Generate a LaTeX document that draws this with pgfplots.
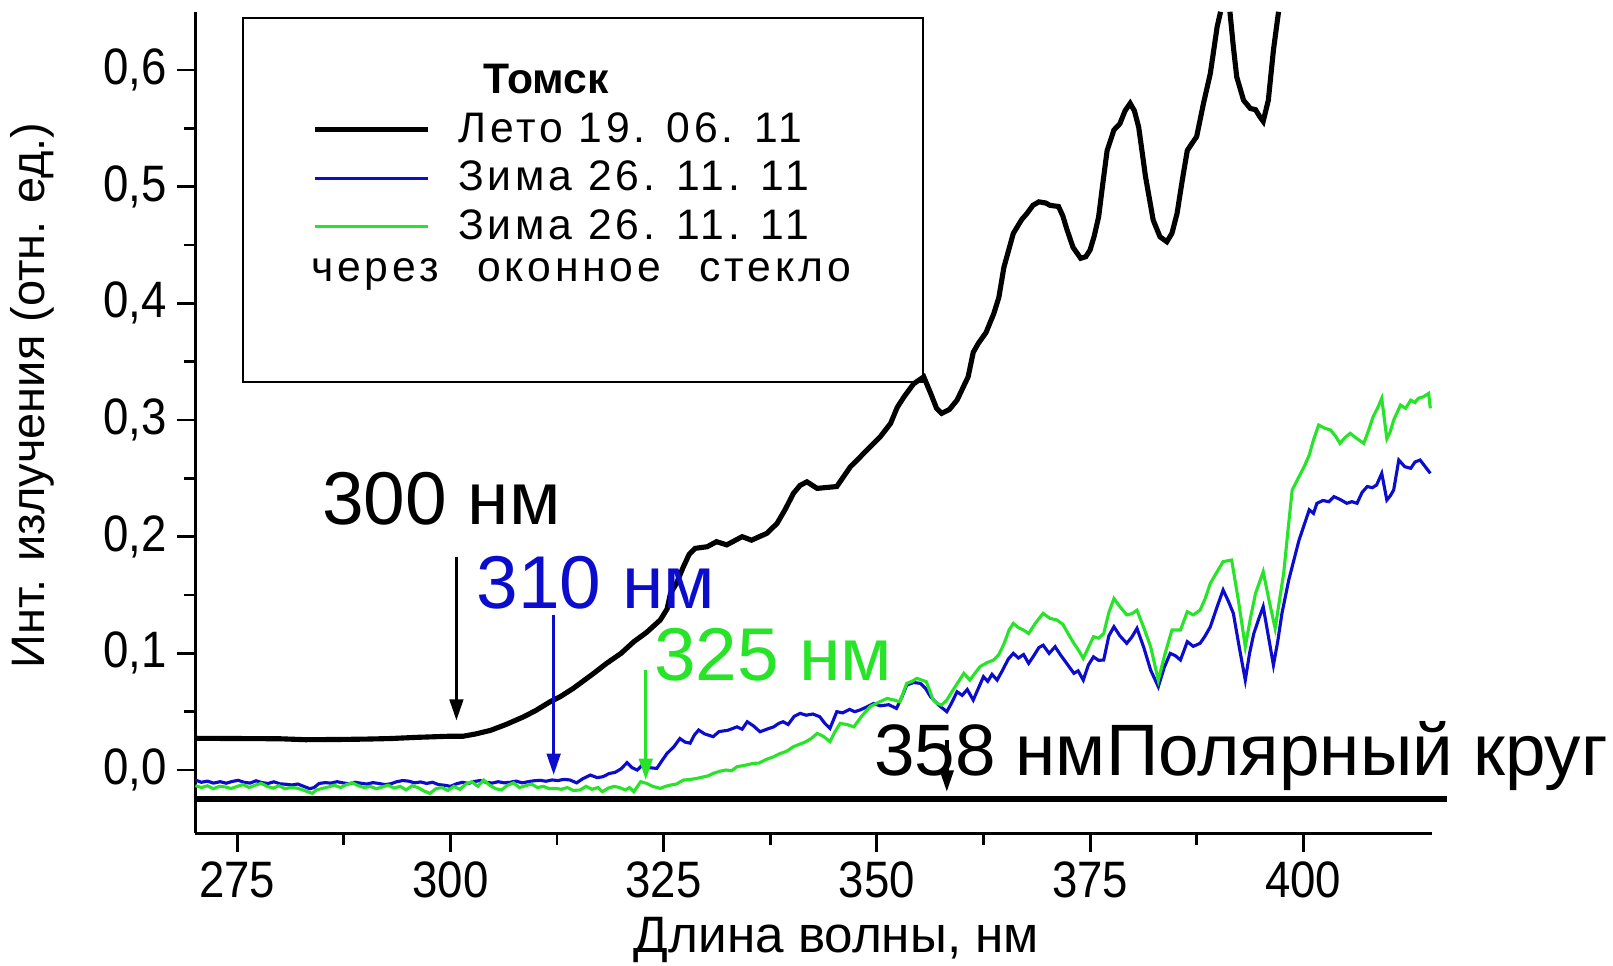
\documentclass[border=0pt]{standalone}
\usepackage{fontspec}
\setmainfont{Liberation Sans}
\newfontfamily\legendfont[LetterSpace=9]{Liberation Sans}
\newfontfamily\tickfont[FakeStretch=0.89]{Liberation Sans}
\usepackage{pgfplots}
\pgfplotsset{compat=1.18}
\usetikzlibrary{arrows.meta}

\definecolor{winterblue}{RGB}{12,12,205}
\definecolor{glassgreen}{RGB}{40,228,40}

\begin{document}
\begin{tikzpicture}
\path[use as bounding box] (-68.7pt,-46.6pt) rectangle (498.2pt,292.9pt);
\begin{axis}[
  scale only axis,
  width=434.6pt, height=288.8pt,
  xmin=270.1, xmax=415.1,
  ymin=-0.0543, ymax=0.65,
  clip=false,
  axis x line*=bottom, axis y line*=left,
  axis line style={line width=1pt, black},
  tick style={line width=1pt, black},
  tick align=outside,
  major tick length=6.5pt, minor tick length=4pt,
  xtick={275,300,325,350,375,400},
  ytick={0,0.1,0.2,0.3,0.4,0.5,0.6},
  minor x tick num=1, minor y tick num=1,
  /pgf/number format/assume math mode=true,
  tick label style={font=\tickfont\fontsize{18}{21}\selectfont},
  yticklabel style={/pgf/number format/.cd, fixed, fixed zerofill, precision=1, use comma},
  xlabel={Длина волны, нм},
  ylabel={Инт. излучения (отн. ед.)},
  every axis x label/.style={at={(axis description cs:0.5,0)}, anchor=base, yshift=-42pt, xshift=8pt, font=\fontsize{18}{21}\selectfont},
  every axis y label/.style={at={(axis description cs:0,0)}, xshift=-52.9pt, yshift=153.9pt, rotate=90, anchor=base, font=\fontsize{16.5}{20}\selectfont},
  legend cell align=left,
  legend style={
    at={(axis cs:275.7,0.6443)}, anchor=north west,
    draw=none, fill=none,
    inner xsep=24pt, inner ysep=16pt,
    font=\legendfont\fontsize{15}{18}\selectfont,
    row sep=5.1pt,
    nodes={inner sep=0pt},
  },
  % line sample followed by the gap before the entry text
  legend image code/.code={\draw[#1] (0pt,0pt) -- (39.8pt,0pt); \path (49.6pt,0pt);},
]

\addlegendimage{empty legend}
\addlegendentry{\hspace*{9pt}{\normalfont\bfseries Томск}}

% summer spectrum, Tomsk
\addplot[black, line width=1.8pt, restrict y to domain=-1:0.65, unbounded coords=jump] coordinates {
(270.1,0.0272) (275,0.0270) (280,0.0268) (283,0.0260) (287,0.0262) (290,0.0265)
(293,0.0270) (296,0.0280) (298,0.0285) (300,0.0290) (301.5,0.0290) (303,0.0310)
(304.7,0.034) (306.5,0.039) (308.6,0.0457) (310,0.051) (311.7,0.0586) (312.9,0.063)
(314.4,0.070) (316.8,0.0829) (318.3,0.0914) (320,0.100) (321.5,0.110) (323,0.118)
(324.6,0.1286) (325.4,0.138) (325.8,0.1514) (326.5,0.160) (327.3,0.174) (328.0,0.185)
(328.7,0.190) (330.1,0.1914) (331.2,0.1957) (332.4,0.193) (334.2,0.200) (335.3,0.197)
(337.1,0.2029) (338.3,0.2114) (339.3,0.224) (340.2,0.237) (341.0,0.244) (341.8,0.247)
(343.0,0.2414) (345.3,0.243) (346.9,0.260) (348.0,0.268) (349.2,0.277) (350.4,0.2857)
(351.6,0.297) (352.4,0.311) (353.2,0.320) (354.3,0.331) (355.5,0.337) (356.3,0.323)
(357.0,0.310) (357.6,0.3057) (358.5,0.309) (359.4,0.317) (360.7,0.337) (361.3,0.358)
(361.9,0.3657) (362.8,0.375) (363.7,0.391) (364.3,0.405) (364.9,0.431) (366.0,0.46)
(367.0,0.472) (367.6,0.477) (368.3,0.484) (369.0,0.487) (369.8,0.486) (370.3,0.484)
(371.3,0.483) (371.8,0.475) (372.3,0.463) (373.0,0.448) (373.9,0.4386) (374.5,0.440)
(375.0,0.4457) (375.5,0.458) (376.0,0.474) (376.5,0.503) (377.0,0.531) (377.8,0.5486)
(378.5,0.554) (379.1,0.565) (379.7,0.5714) (380.2,0.565) (380.7,0.551) (381.1,0.530)
(381.5,0.5086) (382.4,0.4714) (383.2,0.457) (384.0,0.4528) (384.6,0.460) (385.2,0.477)
(385.8,0.505) (386.4,0.531) (387.5,0.543) (388.3,0.5714) (389.1,0.597) (389.9,0.637)
(390.3,0.6499) (390.85,0.69) (391.4,0.6499) (391.8,0.62) (392.2,0.594) (393.0,0.574)
(393.8,0.567) (394.4,0.566) (394.9,0.560) (395.3,0.556) (395.9,0.574) (396.5,0.617)
(397.1,0.6499) (397.6,0.70)
};
\addlegendentry{Лето 19. 06. 11}

% winter spectrum, open air
\addplot[winterblue, line width=1.1pt] coordinates {
(270.1,-0.0086) (270.8,-0.0105) (271.5,-0.0095) (272.2,-0.0112) (273.0,-0.0100) (273.7,-0.0113)
(274.4,-0.0098) (275.1,-0.0088) (275.8,-0.0105) (276.5,-0.0112) (277.2,-0.0092) (277.9,-0.0108)
(278.6,-0.0115) (279.3,-0.0101) (280.0,-0.0118) (280.7,-0.0122) (281.4,-0.0128) (282.1,-0.0120)
(282.8,-0.0140) (283.5,-0.0160) (284.0,-0.0150) (284.6,-0.0115) (285.3,-0.0108) (286.0,-0.0112)
(286.7,-0.0100) (287.4,-0.0110) (288.1,-0.0118) (288.8,-0.0105) (289.5,-0.0113) (290.2,-0.0120)
(290.9,-0.0108) (291.6,-0.0115) (292.3,-0.0125) (293.0,-0.0118) (293.7,-0.0100) (294.4,-0.0090)
(295.1,-0.0095) (295.8,-0.0110) (296.5,-0.0102) (297.2,-0.0115) (297.9,-0.0105) (298.6,-0.0125)
(299.3,-0.0130) (300.0,-0.0140) (300.7,-0.0118) (301.4,-0.0105) (302.1,-0.0115) (302.8,-0.0098)
(303.5,-0.0090) (304.2,-0.0105) (304.9,-0.0112) (305.6,-0.0100) (306.3,-0.0110) (307.0,-0.0105)
(307.7,-0.0095) (308.4,-0.0110) (309.1,-0.0100) (309.8,-0.0092) (310.5,-0.0088) (311.2,-0.0096)
(311.9,-0.0085) (312.6,-0.0090) (313.3,-0.0080) (314.0,-0.0085) (314.8,-0.0110) (315.5,-0.0075)
(316.4,-0.0043) (317.2,-0.0065) (317.9,-0.0057) (318.6,-0.0030) (319.3,-0.0020) (320.0,0.0010)
(320.7,0.0063) (321.3,0.0020) (321.9,0.0000) (322.6,0.0050) (323.3,0.0020) (324.2,0.0014)
(324.8,0.0080) (325.4,0.0143) (326.2,0.0200) (326.9,0.0270) (327.5,0.0240) (328.1,0.0230)
(328.6,0.0300) (329.1,0.0343) (329.8,0.0310) (330.8,0.0286) (331.5,0.0330) (332.5,0.0340)
(333.6,0.0370) (334.2,0.0350) (334.8,0.0414) (335.5,0.0380) (336.3,0.0328) (337.1,0.0350)
(337.9,0.0370) (338.5,0.0400) (339.0,0.0414) (339.6,0.0390) (340.3,0.0460) (341.0,0.0486)
(341.7,0.0470) (342.5,0.0480) (343.3,0.0457) (343.9,0.0400) (344.5,0.0357) (345.3,0.0500)
(346.0,0.0490) (346.8,0.0520) (347.4,0.0500) (348.0,0.0514) (348.8,0.0540) (349.6,0.0570)
(350.4,0.0550) (351.4,0.0560) (352.3,0.0528) (352.9,0.0620) (353.5,0.0728) (354.3,0.0750)
(355.1,0.0743) (355.7,0.0700) (356.3,0.0628) (357.2,0.0560) (358.2,0.0500) (358.8,0.0580)
(359.4,0.0671) (360.0,0.0640) (360.6,0.0690) (361.3,0.0600) (361.9,0.0700) (362.5,0.0800)
(363.0,0.0760) (363.5,0.0820) (364.1,0.0771) (364.7,0.0850) (365.4,0.0950) (366.0,0.1000)
(366.6,0.0960) (367.2,0.0990) (367.8,0.0914) (368.4,0.0980) (369.0,0.1050) (369.5,0.1070)
(370.2,0.1000) (370.9,0.1057) (371.5,0.0990) (372.2,0.0920) (373.1,0.0829) (373.6,0.0850)
(374.2,0.0771) (374.8,0.0900) (375.4,0.0970) (376.0,0.0940) (376.6,0.0943) (377.2,0.1150)
(377.8,0.1228) (378.5,0.1150) (379.3,0.1086) (379.9,0.1140) (380.5,0.1214) (381.3,0.1050)
(382.1,0.0857) (383.0,0.0714) (383.7,0.0880) (384.4,0.1000) (385.0,0.0980) (385.6,0.0943)
(386.4,0.1100) (387.1,0.1060) (387.9,0.1086) (388.5,0.1150) (389.1,0.1228) (389.9,0.1400)
(390.6,0.1543) (391.2,0.1450) (391.8,0.1343) (392.5,0.1050) (393.2,0.0771) (393.7,0.1000)
(394.2,0.1170) (394.8,0.1300) (395.3,0.1400) (395.9,0.1150) (396.5,0.0900) (397.0,0.1100)
(397.5,0.1343) (398.3,0.1630) (398.9,0.1800) (399.5,0.1970) (400.1,0.2100) (400.7,0.2230)
(401.2,0.2200) (401.6,0.2286) (402.3,0.2310) (403.0,0.2300) (403.6,0.2343) (404.3,0.2320)
(405.1,0.2286) (405.7,0.2300) (406.3,0.2286) (406.9,0.2380) (407.5,0.2430) (408.1,0.2420)
(408.6,0.2443) (409.2,0.2543) (409.8,0.2314) (410.2,0.2350) (410.6,0.2400) (411.2,0.2657)
(411.9,0.2600) (412.6,0.2586) (413.1,0.2640) (413.7,0.2657) (414.3,0.2600) (414.9,0.2543)
};
\addlegendentry{Зима 26. 11. 11}

% winter spectrum, through window glass
\addplot[glassgreen, line width=1.1pt] coordinates {
(270.1,-0.0134) (270.8,-0.0150) (271.5,-0.0135) (272.2,-0.0160) (272.9,-0.0140) (273.6,-0.0145)
(274.3,-0.0158) (275.0,-0.0140) (275.7,-0.0125) (276.4,-0.0150) (277.1,-0.0130) (277.8,-0.0114)
(278.5,-0.0140) (279.2,-0.0155) (279.9,-0.0135) (280.6,-0.0160) (281.3,-0.0149) (282.0,-0.0155)
(282.7,-0.0170) (283.4,-0.0190) (283.8,-0.0200) (284.3,-0.0170) (285.0,-0.0157) (285.7,-0.0145)
(286.4,-0.0130) (287.1,-0.0150) (287.8,-0.0125) (288.5,-0.0109) (289.2,-0.0135) (289.9,-0.0150)
(290.6,-0.0140) (291.3,-0.0160) (292.0,-0.0145) (292.7,-0.0130) (293.4,-0.0155) (294.1,-0.0140)
(294.8,-0.0170) (295.5,-0.0135) (296.2,-0.0150) (296.9,-0.0180) (297.6,-0.0200) (298.3,-0.0160)
(299.0,-0.0150) (299.7,-0.0175) (300.4,-0.0140) (301.1,-0.0165) (301.8,-0.0120) (302.5,-0.0100)
(303.2,-0.0140) (303.9,-0.0086) (304.6,-0.0130) (305.3,-0.0160) (306.0,-0.0171) (306.7,-0.0130)
(307.4,-0.0110) (308.1,-0.0150) (308.8,-0.0135) (309.5,-0.0120) (310.2,-0.0150) (310.9,-0.0140)
(311.6,-0.0160) (312.3,-0.0157) (313.0,-0.0165) (313.7,-0.0150) (314.4,-0.0175) (315.2,-0.0171)
(315.9,-0.0140) (316.6,-0.0165) (317.3,-0.0150) (317.8,-0.0186) (318.5,-0.0155) (319.2,-0.0140)
(319.8,-0.0150) (320.5,-0.0170) (321.0,-0.0150) (321.5,-0.0186) (322.3,-0.0100) (323.0,-0.0114)
(323.7,-0.0140) (324.6,-0.0157) (325.2,-0.0140) (325.8,-0.0129) (326.5,-0.0120) (327.3,-0.0086)
(328.2,-0.0080) (328.9,-0.0071) (329.6,-0.0060) (330.2,-0.0050) (330.8,-0.0029) (331.6,-0.0010)
(332.3,0.0000) (333.0,-0.0005) (333.6,0.0029) (334.5,0.0040) (335.5,0.0057) (336.2,0.0060)
(337.0,0.0090) (337.9,0.0114) (338.6,0.0140) (339.4,0.0160) (340.2,0.0200) (340.9,0.0220)
(341.6,0.0240) (342.3,0.0270) (343.0,0.0314) (343.7,0.0290) (344.5,0.0243) (345.1,0.0330)
(345.7,0.0400) (346.5,0.0390) (347.3,0.0370) (348.2,0.0460) (349.2,0.0543) (350.2,0.0580)
(351.2,0.0614) (352.0,0.0600) (352.7,0.0585) (353.5,0.0743) (354.1,0.0760) (354.7,0.0786)
(355.3,0.0770) (355.8,0.0757) (356.2,0.0680) (356.6,0.0600) (357.1,0.0570) (357.6,0.0557)
(358.2,0.0600) (358.8,0.0671) (359.5,0.0750) (360.2,0.0829) (360.9,0.0771) (361.5,0.0830)
(362.1,0.0886) (362.9,0.0920) (363.7,0.0943) (364.3,0.0990) (364.9,0.1080) (365.5,0.1200)
(366.0,0.1257) (366.6,0.1220) (367.2,0.1200) (367.8,0.1170) (368.6,0.1260) (369.5,0.1343)
(370.3,0.1300) (371.1,0.1286) (371.8,0.1250) (372.5,0.1160) (373.1,0.1086) (373.7,0.1020)
(374.2,0.0957) (374.8,0.1050) (375.4,0.1143) (376.0,0.1130) (376.6,0.1170) (377.2,0.1350)
(377.8,0.1470) (378.5,0.1400) (379.3,0.1330) (379.9,0.1340) (380.5,0.1370) (381.3,0.1220)
(382.1,0.1057) (383.0,0.0770) (383.8,0.1000) (384.6,0.1200) (385.6,0.1200) (386.4,0.1357)
(387.1,0.1330) (387.9,0.1370) (388.5,0.1470) (389.1,0.1600) (389.9,0.1700) (390.6,0.1786)
(391.6,0.1800) (392.4,0.1450) (393.2,0.1057) (393.8,0.1300) (394.4,0.1514) (395.3,0.1700)
(396.0,0.1450) (396.7,0.1214) (397.2,0.1450) (397.7,0.1686) (398.2,0.2050) (398.7,0.2400)
(399.5,0.2514) (400.1,0.2600) (400.7,0.2700) (401.2,0.2830) (401.8,0.2957) (402.5,0.2930)
(403.2,0.2914) (403.8,0.2860) (404.3,0.2800) (404.9,0.2850) (405.5,0.2886) (406.3,0.2840)
(407.1,0.2800) (407.7,0.2920) (408.2,0.3030) (408.7,0.3100) (409.2,0.3186) (409.8,0.2840)
(410.2,0.2900) (410.6,0.3000) (411.4,0.3128) (412.0,0.3100) (412.6,0.3170) (413.1,0.3150)
(413.5,0.3186) (414.1,0.3200) (414.7,0.3228) (414.9,0.3100)
};
\addlegendentry{Зима 26. 11. 11}

\addlegendimage{empty legend}
\addlegendentry{\hspace*{-51.7pt}через\hspace{13.5pt}оконное\hspace{13.5pt}стекло}

% level of the polar circle
\addplot[black, line width=2pt, forget plot] coordinates {(270.1,-0.0249) (416.9,-0.0249)};

% frame around the legend
\draw[black, line width=0.7pt] (axis cs:275.7,0.6443) rectangle (axis cs:355.4,0.3328);

% anchor points for the annotations
\coordinate (t300) at (axis cs:284.9,0.2103);
\coordinate (t310) at (axis cs:303.0,0.1386);
\coordinate (t325) at (axis cs:323.8,0.0771);
\coordinate (t358) at (axis cs:349.6,-0.0043);
\coordinate (a300a) at (axis cs:300.7,0.183);
\coordinate (a300b) at (axis cs:300.7,0.0423);
\coordinate (a310a) at (axis cs:312.1,0.133);
\coordinate (a310b) at (axis cs:312.1,-0.0043);
\coordinate (a325a) at (axis cs:322.9,0.0857);
\coordinate (a325b) at (axis cs:322.9,-0.0086);
\coordinate (a358a) at (axis cs:358.2,0.0257);
\coordinate (a358b) at (axis cs:358.2,-0.0186);
\end{axis}

\begin{scope}[every node/.style={anchor=base west, inner sep=0pt, font=\fontsize{26.3}{31}\selectfont}]
\node[black] at (t300) {300 нм};
\node[winterblue] at (t310) {310 нм};
\node[glassgreen] at (t325) {325 нм};
\node[black, font=\fontsize{25.6}{30}\selectfont] at (t358) {358 нмПолярный круг};
\end{scope}

\begin{scope}[line width=1.2pt, -{Triangle[length=7.5pt,width=4.7pt]}]
\draw[black] (a300a) -- (a300b);
\draw[winterblue] (a310a) -- (a310b);
\draw[glassgreen] (a325a) -- (a325b);
\draw[black] (a358a) -- (a358b);
\end{scope}
\end{tikzpicture}
\end{document}
